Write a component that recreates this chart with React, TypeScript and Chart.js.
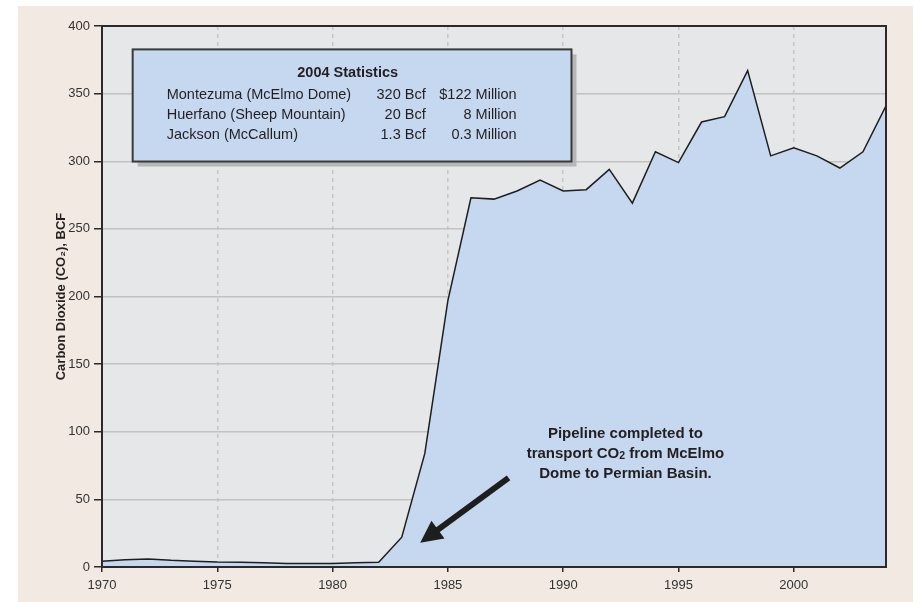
import React, { useEffect, useRef } from 'react';
import { Chart, registerables } from 'chart.js';

Chart.register(...registerables);

// ---- data ----
const years = [
  1970, 1971, 1972, 1973, 1974, 1975, 1976, 1977, 1978, 1979,
  1980, 1981, 1982, 1983, 1984, 1985, 1986, 1987, 1988, 1989,
  1990, 1991, 1992, 1993, 1994, 1995, 1996, 1997, 1998, 1999,
  2000, 2001, 2002, 2003, 2004,
];
const co2Bcf = [
  4.2, 5.3, 5.9, 4.9, 4.3, 3.7, 3.6, 3.2, 2.5, 2.6,
  2.5, 3.1, 3.5, 22, 84, 197, 273, 272, 278, 286,
  278, 279, 294, 269, 307, 299, 329, 333, 367, 304,
  310, 304, 295, 307, 341,
];
const yTitle = 'Carbon Dioxide (CO\u2082), BCF';
const statsTitle = '2004 Statistics';
const statsFields = ['Montezuma (McElmo Dome)', 'Huerfano (Sheep Mountain)', 'Jackson (McCallum)'];
const statsVolumes = ['320 Bcf', '20 Bcf', '1.3 Bcf'];
const statsValues = ['$122 Million', '8 Million', '0.3 Million'];
// each note line is a list of [text, isSubscript] runs
const noteLines: [string, boolean][][] = [
  [['Pipeline completed to', false]],
  [['transport CO', false], ['2', true], [' from McElmo', false]],
  [['Dome to Permian Basin.', false]],
];

// annotation anchors in data coordinates
const statsBox = { x1: 1971.33, x2: 1990.36, yTop: 382.7, yBottom: 299.8 };
const arrowTail = { x: 1987.63, y: 65.9 };
const arrowTip = { x: 1983.8, y: 18 };
const noteAnchor = { x: 1992.7, y: 99.8 };

const FONT = '"Liberation Sans", Arial, Helvetica, sans-serif';
const INK = '#231f20';

const decorPlugin = {
  id: 'decor',
  beforeDraw(chart: any) {
    const { ctx, chartArea: a } = chart;
    ctx.save();
    ctx.fillStyle = '#e6e7e9';
    ctx.fillRect(a.left, a.top, a.right - a.left, a.bottom - a.top);
    ctx.restore();
  },
  afterDatasetsDraw(chart: any) {
    const { ctx, chartArea: a, scales } = chart;
    const xs = scales.x;
    const ys = scales.y;
    ctx.save();
    // frame
    ctx.strokeStyle = '#2a2a2a';
    ctx.lineWidth = 2;
    ctx.strokeRect(a.left, a.top, a.right - a.left, a.bottom - a.top);

    // stats box
    const bl = xs.getPixelForValue(statsBox.x1);
    const br = xs.getPixelForValue(statsBox.x2);
    const bt = ys.getPixelForValue(statsBox.yTop);
    const bb = ys.getPixelForValue(statsBox.yBottom);
    ctx.fillStyle = '#b7b7b7';
    ctx.fillRect(bl + 5, bt + 5, br - bl, bb - bt);
    ctx.fillStyle = '#c5d8ef';
    ctx.fillRect(bl, bt, br - bl, bb - bt);
    ctx.strokeStyle = '#3a3a3a';
    ctx.lineWidth = 2;
    ctx.strokeRect(bl, bt, br - bl, bb - bt);

    ctx.fillStyle = INK;
    ctx.textBaseline = 'middle';
    ctx.font = `bold 14.5px ${FONT}`;
    ctx.textAlign = 'center';
    ctx.fillText(statsTitle, bl + 215, bt + 24);
    ctx.font = `14.5px ${FONT}`;
    statsFields.forEach((f, i) => {
      const yy = bt + 46 + i * 20;
      ctx.textAlign = 'left';
      ctx.fillText(f, bl + 34, yy);
      ctx.textAlign = 'right';
      ctx.fillText(statsVolumes[i], bl + 293, yy);
      ctx.fillText(statsValues[i], bl + 384, yy);
    });

    // note text with subscript runs
    const nx = xs.getPixelForValue(noteAnchor.x);
    const ny = ys.getPixelForValue(noteAnchor.y);
    const mainFont = `bold 15px ${FONT}`;
    const subFont = `bold 10.5px ${FONT}`;
    ctx.textAlign = 'left';
    ctx.textBaseline = 'alphabetic';
    noteLines.forEach((runs, i) => {
      let total = 0;
      runs.forEach(([t, sub]) => {
        ctx.font = sub ? subFont : mainFont;
        total += ctx.measureText(t).width;
      });
      let cx = nx - total / 2;
      const base = ny + i * 20 + 5.5;
      runs.forEach(([t, sub]) => {
        ctx.font = sub ? subFont : mainFont;
        ctx.fillText(t, cx, base + (sub ? 1 : 0));
        cx += ctx.measureText(t).width;
      });
    });

    // arrow
    const tx = xs.getPixelForValue(arrowTail.x);
    const ty = ys.getPixelForValue(arrowTail.y);
    const px = xs.getPixelForValue(arrowTip.x);
    const py = ys.getPixelForValue(arrowTip.y);
    const ang = Math.atan2(py - ty, px - tx);
    const headLen = 22;
    const headHalf = 11;
    const bx = px - headLen * Math.cos(ang);
    const by = py - headLen * Math.sin(ang);
    ctx.strokeStyle = '#1e1e1e';
    ctx.lineWidth = 6;
    ctx.lineCap = 'butt';
    ctx.beginPath();
    ctx.moveTo(tx, ty);
    ctx.lineTo(bx + 2 * Math.cos(ang), by + 2 * Math.sin(ang));
    ctx.stroke();
    ctx.fillStyle = '#1e1e1e';
    ctx.beginPath();
    ctx.moveTo(px, py);
    ctx.lineTo(bx + headHalf * Math.sin(ang), by - headHalf * Math.cos(ang));
    ctx.lineTo(bx - headHalf * Math.sin(ang), by + headHalf * Math.cos(ang));
    ctx.closePath();
    ctx.fill();
    ctx.restore();
  },
};

export default function App() {
  const ref = useRef<HTMLCanvasElement | null>(null);

  useEffect(() => {
    if (!ref.current) return;
    const chart = new Chart(ref.current, {
      type: 'line',
      data: {
        datasets: [
          {
            label: 'CO2',
            data: years.map((y, i) => ({ x: y, y: co2Bcf[i] })),
            borderColor: '#1e1e1e',
            borderWidth: 1.5,
            backgroundColor: '#c5d8ef',
            fill: 'origin',
            pointRadius: 0,
            tension: 0,
          },
        ],
      },
      options: {
        responsive: false,
        animation: false,
        devicePixelRatio: 1,
        layout: { padding: { top: 26, right: 30, left: 0, bottom: 0 } },
        plugins: {
          legend: { display: false },
          tooltip: { enabled: false },
        },
        scales: {
          x: {
            type: 'linear',
            min: 1970,
            max: 2004,
            afterFit: (s: any) => {
              s.height = 35;
            },
            ticks: {
              stepSize: 5,
              includeBounds: false,
              autoSkip: false,
              maxRotation: 0,
              padding: 6,
              color: '#333',
              font: { family: FONT, size: 13 },
              callback: (v: any) => String(v),
            },
            grid: {
              color: '#c6c6c6',
              lineWidth: 1.5,
              tickColor: '#2a2a2a',
              tickLength: 5,
              tickWidth: 1.5,
            },
            border: { display: true, color: '#2a2a2a', width: 2, dash: [4, 4] },
          },
          y: {
            min: 0,
            max: 400,
            afterFit: (s: any) => {
              s.width = 102;
            },
            ticks: {
              stepSize: 50,
              padding: 4,
              color: '#333',
              font: { family: FONT, size: 13 },
            },
            grid: {
              color: '#c2c2c2',
              lineWidth: 1.5,
              tickColor: '#2a2a2a',
              tickLength: 8,
              tickWidth: 1.5,
            },
            border: { display: true, color: '#2a2a2a', width: 2 },
            title: {
              display: true,
              text: yTitle,
              color: INK,
              font: { family: FONT, size: 13, weight: 'bold' },
              padding: { top: 54, bottom: 0 },
            },
          },
        },
      },
      plugins: [decorPlugin],
    } as any);
    return () => chart.destroy();
  }, []);

  return (
    <div style={{ position: 'fixed', left: 0, top: 0, width: 916, height: 602, background: '#ffffff' }}>
      <div
        style={{ position: 'absolute', left: 18, top: 6, width: 895, height: 596, background: '#f2e9e2' }}
      />
      <canvas
        ref={ref}
        width={916}
        height={602}
        style={{ position: 'absolute', left: 0, top: 0, width: 916, height: 602 }}
      />
    </div>
  );
}
